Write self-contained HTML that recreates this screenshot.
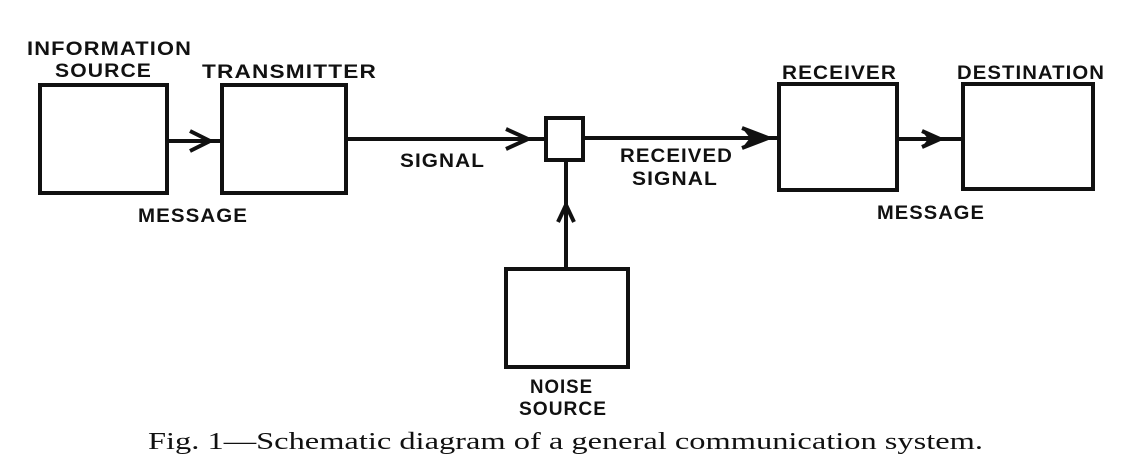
<!DOCTYPE html>
<html><head><meta charset="utf-8"><style>
html,body{margin:0;padding:0;background:#fff;}
svg{display:block;}
.l{font-family:"Liberation Sans",sans-serif;font-size:19px;font-weight:bold;fill:#111;letter-spacing:1px;}
.c{font-family:"Liberation Serif",serif;font-size:24px;fill:#111;}
</style></head><body>
<svg width="1140" height="474" viewBox="0 0 1140 474" xmlns="http://www.w3.org/2000/svg">
<g fill="none" stroke="#111" stroke-width="4">
<rect x="40" y="85" width="127" height="108"/>
<rect x="222" y="85" width="124" height="108"/>
<rect x="546" y="118" width="37" height="42"/>
<rect x="779" y="84" width="118" height="106"/>
<rect x="963" y="84" width="130" height="105"/>
<rect x="506" y="269" width="122" height="98"/>
<line x1="167" y1="141" x2="222" y2="141"/>
<line x1="346" y1="139" x2="546" y2="139"/>
<line x1="583" y1="138" x2="779" y2="138"/>
<line x1="897" y1="139" x2="963" y2="139"/>
<line x1="566" y1="160" x2="566" y2="269"/>
</g>
<g fill="none" stroke="#111" stroke-width="4" stroke-linejoin="miter">
<polyline points="190,131 210,141 190,151"/>
<polyline points="506,129 528,139 506,149"/>
<polyline points="742,128 768,138 742,148"/>
<polyline points="922,131 940,139 922,147"/>
<polyline points="558,222 566,205 574,222"/>
</g>
<path d="M742,128 L770,138 L742,148 L750,138Z" fill="#111"/>
<path d="M922,131 L942,139 L922,147 L928,139Z" fill="#111"/>
<text class="l" x="27" y="55" textLength="165" lengthAdjust="spacingAndGlyphs">INFORMATION</text>
<text class="l" x="55" y="77" textLength="97" lengthAdjust="spacingAndGlyphs">SOURCE</text>
<text class="l" x="202" y="78" textLength="175" lengthAdjust="spacingAndGlyphs">TRANSMITTER</text>
<text class="l" x="400" y="167" textLength="85" lengthAdjust="spacingAndGlyphs">SIGNAL</text>
<text class="l" x="138" y="222" textLength="110" lengthAdjust="spacingAndGlyphs">MESSAGE</text>
<text class="l" x="620" y="162" textLength="113" lengthAdjust="spacingAndGlyphs">RECEIVED</text>
<text class="l" x="632" y="185" textLength="86" lengthAdjust="spacingAndGlyphs">SIGNAL</text>
<text class="l" x="782" y="79" textLength="115" lengthAdjust="spacingAndGlyphs">RECEIVER</text>
<text class="l" x="957" y="79" textLength="148" lengthAdjust="spacingAndGlyphs">DESTINATION</text>
<text class="l" x="877" y="219" textLength="108" lengthAdjust="spacingAndGlyphs">MESSAGE</text>
<text class="l" x="530" y="393" textLength="63" lengthAdjust="spacingAndGlyphs">NOISE</text>
<text class="l" x="519" y="415" textLength="88" lengthAdjust="spacingAndGlyphs">SOURCE</text>
<text class="c" x="148" y="449" textLength="835" lengthAdjust="spacingAndGlyphs">Fig. 1—Schematic diagram of a general communication system.</text>
</svg>
</body></html>
